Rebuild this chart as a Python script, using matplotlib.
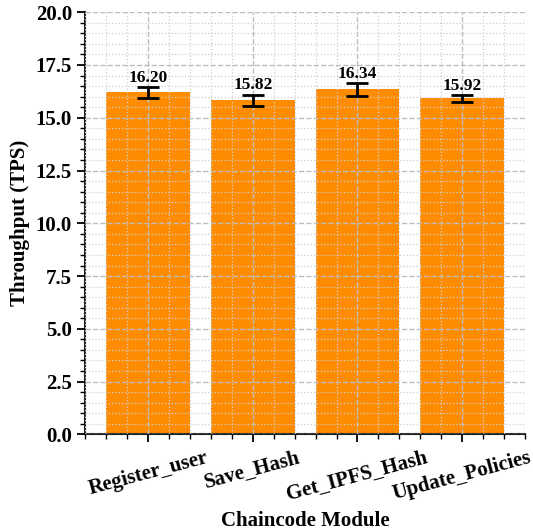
import matplotlib
matplotlib.use('Agg')
import matplotlib.pyplot as plt
from matplotlib.ticker import MultipleLocator

# data
modules = ["Register_user", "Save_Hash", "Get_IPFS_Hash", "Update_Policies"]
throughput = [16.20, 15.82, 16.34, 15.92]
errors = [0.25, 0.28, 0.32, 0.16]

plt.rcParams['font.family'] = ['Liberation Serif', 'DejaVu Serif']
plt.rcParams['font.weight'] = 'bold'

fig = plt.figure(figsize=(5.33, 5.31), dpi=100)
ax = fig.add_axes([0.160, 0.182, 0.825, 0.795])

x = list(range(len(modules)))
ax.bar(x, throughput, width=0.8, color='#FF8C00', zorder=1)
ax.errorbar(x, throughput, yerr=errors, fmt='none', ecolor='black',
            elinewidth=2, capsize=8, capthick=2, zorder=3)

for xi, v, e in zip(x, throughput, errors):
    ax.text(xi, v + e + 0.05, f"{v:.2f}", ha='center', va='bottom',
            fontsize=12.5, fontweight='bold', zorder=4)

ax.set_xlim(-0.6, 3.6)
ax.set_ylim(0, 20)
ax.set_xticks(x)
ax.set_xticklabels(modules, rotation=15, ha='center', fontsize=15, fontweight='bold')
ax.yaxis.set_major_locator(MultipleLocator(2.5))
ax.yaxis.set_minor_locator(MultipleLocator(0.5))
ax.xaxis.set_minor_locator(MultipleLocator(0.2))
ax.yaxis.set_major_formatter(matplotlib.ticker.FormatStrFormatter('%.1f'))
for lab in ax.get_yticklabels():
    lab.set_fontsize(15)
    lab.set_fontweight('bold')

ax.tick_params(which='major', direction='out', length=6, width=1.3)
ax.tick_params(which='minor', direction='out', length=3.5, width=1.0)

ax.grid(which='major', linestyle='--', color='#bdbdbd', linewidth=1.0, zorder=2)
ax.grid(which='minor', linestyle=':', color='#cfcfcf', linewidth=0.9, zorder=2)
ax.set_axisbelow(False)

for side in ['top', 'right']:
    ax.spines[side].set_visible(False)
for side in ['left', 'bottom']:
    ax.spines[side].set_linewidth(1.5)
    ax.spines[side].set_color('#222222')

ax.set_xlabel("Chaincode Module", fontsize=15, fontweight='bold', labelpad=5)
ax.set_ylabel("Throughput (TPS)", fontsize=15, fontweight='bold')

fig.savefig("out.png", dpi=100)
